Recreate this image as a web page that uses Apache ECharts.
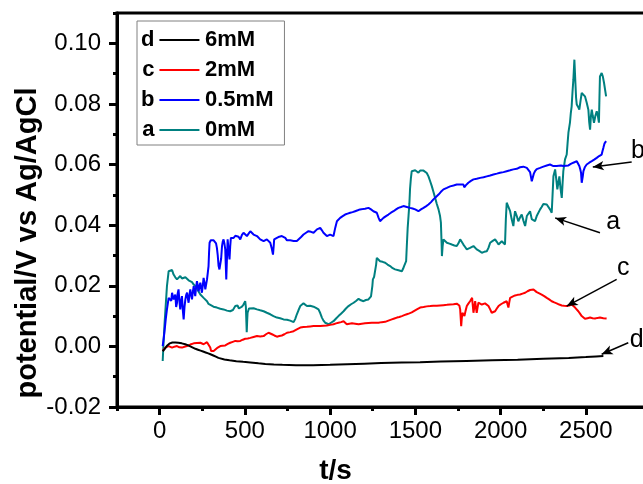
<!DOCTYPE html>
<html>
<head>
<meta charset="utf-8">
<script src="https://cdn.jsdelivr.net/npm/echarts@6/dist/echarts.min.js"></script>
<style>
html,body{margin:0;padding:0;background:#fff;}
#main{width:643px;height:484px;}
</style>
</head>
<body>
<div id="main"></div>
<script>
// t/s , potential/V
var seriesA = [[18,-0.0048],[28,0.0067],[43,0.0199],[53,0.0248],[63,0.0245],[73,0.0252],[82,0.0237],[92,0.0228],[102,0.0221],[111,0.0226],[121,0.0232],[131,0.0224],[141,0.0221],[151,0.0228],[161,0.0226],[170,0.0218],[180,0.0221],[190,0.0212],[200,0.0204],[209,0.0199],[219,0.0193],[229,0.0180],[239,0.0171],[248,0.0166],[258,0.0160],[268,0.0155],[278,0.0149],[287,0.0140],[297,0.0135],[316,0.0131],[336,0.0128],[356,0.0124],[375,0.0122],[395,0.0118],[414,0.0116],[430,0.0120],[444,0.0133],[457,0.0135],[465,0.0125],[473,0.0128],[483,0.0131],[492,0.0138],[502,0.0149],[506,0.0130],[509,0.0080],[511,0.0047],[514,0.0090],[516,0.0111],[524,0.0125],[532,0.0128],[551,0.0126],[571,0.0122],[590,0.0119],[610,0.0116],[629,0.0111],[649,0.0106],[668,0.0100],[688,0.0095],[707,0.0093],[727,0.0089],[747,0.0088],[766,0.0085],[786,0.0080],[795,0.0090],[805,0.0106],[815,0.0120],[825,0.0133],[834,0.0138],[844,0.0142],[854,0.0138],[864,0.0133],[883,0.0134],[903,0.0131],[917,0.0127],[932,0.0122],[942,0.0110],[952,0.0095],[961,0.0085],[971,0.0078],[981,0.0075],[991,0.0073],[1005,0.0078],[1020,0.0083],[1035,0.0092],[1049,0.0100],[1064,0.0108],[1079,0.0116],[1093,0.0125],[1108,0.0133],[1123,0.0139],[1138,0.0144],[1152,0.0150],[1167,0.0157],[1181,0.0152],[1196,0.0149],[1210,0.0153],[1225,0.0155],[1240,0.0165],[1245,0.0171],[1248,0.0200],[1251,0.0221],[1258,0.0229],[1264,0.0232],[1270,0.0270],[1274,0.0292],[1284,0.0286],[1293,0.0281],[1308,0.0279],[1323,0.0276],[1337,0.0270],[1352,0.0265],[1367,0.0258],[1381,0.0254],[1401,0.0251],[1421,0.0248],[1428,0.0256],[1434,0.0265],[1446,0.0281],[1450,0.0331],[1455,0.0390],[1460,0.0430],[1465,0.0470],[1469,0.0520],[1474,0.0555],[1479,0.0578],[1489,0.0575],[1499,0.0581],[1509,0.0577],[1518,0.0573],[1528,0.0580],[1538,0.0584],[1548,0.0580],[1557,0.0578],[1567,0.0572],[1577,0.0561],[1587,0.0545],[1597,0.0528],[1606,0.0510],[1616,0.0490],[1626,0.0470],[1636,0.0452],[1645,0.0430],[1650,0.0408],[1654,0.0340],[1656,0.0298],[1660,0.0330],[1665,0.0353],[1675,0.0347],[1685,0.0342],[1700,0.0339],[1714,0.0336],[1729,0.0333],[1743,0.0331],[1753,0.0340],[1763,0.0353],[1772,0.0345],[1782,0.0336],[1792,0.0328],[1802,0.0320],[1811,0.0323],[1821,0.0325],[1831,0.0328],[1841,0.0331],[1851,0.0325],[1860,0.0320],[1875,0.0315],[1890,0.0309],[1904,0.0312],[1919,0.0314],[1929,0.0325],[1939,0.0342],[1954,0.0348],[1968,0.0353],[1978,0.0345],[1988,0.0336],[1997,0.0342],[2007,0.0347],[2017,0.0342],[2026,0.0336],[2031,0.0420],[2036,0.0474],[2046,0.0460],[2056,0.0446],[2065,0.0420],[2075,0.0397],[2080,0.0425],[2085,0.0446],[2095,0.0430],[2104,0.0413],[2114,0.0425],[2124,0.0435],[2134,0.0415],[2144,0.0397],[2154,0.0430],[2163,0.0424],[2173,0.0446],[2183,0.0420],[2193,0.0425],[2202,0.0413],[2212,0.0430],[2222,0.0435],[2232,0.0452],[2241,0.0460],[2251,0.0470],[2261,0.0474],[2271,0.0468],[2281,0.0463],[2290,0.0452],[2300,0.0441],[2305,0.0500],[2310,0.0561],[2320,0.0584],[2327,0.0550],[2333,0.0518],[2339,0.0540],[2345,0.0561],[2352,0.0520],[2359,0.0490],[2364,0.0540],[2368,0.0578],[2378,0.0617],[2388,0.0633],[2393,0.0670],[2398,0.0705],[2407,0.0738],[2412,0.0770],[2417,0.0792],[2422,0.0840],[2427,0.0880],[2433,0.0946],[2439,0.0869],[2443,0.0820],[2447,0.0798],[2455,0.0790],[2462,0.0781],[2469,0.0810],[2476,0.0836],[2486,0.0830],[2495,0.0825],[2505,0.0805],[2515,0.0781],[2520,0.0740],[2525,0.0715],[2530,0.0760],[2535,0.0781],[2541,0.0760],[2548,0.0738],[2556,0.0760],[2564,0.0776],[2571,0.0760],[2577,0.0738],[2580,0.0820],[2583,0.0891],[2593,0.0902],[2600,0.0890],[2607,0.0869],[2612,0.0870],[2619,0.0825]];
var seriesB = [[18,0.0001],[28,0.0045],[36,0.0090],[43,0.0122],[53,0.0160],[63,0.0166],[68,0.0150],[73,0.0177],[82,0.0155],[92,0.0171],[97,0.0130],[102,0.0144],[106,0.0175],[111,0.0188],[116,0.0150],[121,0.0122],[126,0.0150],[131,0.0166],[136,0.0120],[141,0.0089],[146,0.0130],[151,0.0155],[156,0.0170],[161,0.0177],[165,0.0160],[170,0.0144],[175,0.0170],[180,0.0188],[185,0.0170],[190,0.0155],[195,0.0180],[200,0.0199],[205,0.0180],[209,0.0166],[214,0.0195],[219,0.0215],[224,0.0200],[229,0.0182],[234,0.0200],[239,0.0210],[243,0.0195],[248,0.0177],[253,0.0200],[258,0.0226],[263,0.0210],[268,0.0188],[273,0.0205],[278,0.0221],[283,0.0245],[287,0.0265],[290,0.0310],[293,0.0342],[300,0.0350],[307,0.0353],[317,0.0350],[327,0.0347],[331,0.0340],[336,0.0325],[341,0.0300],[346,0.0265],[351,0.0254],[356,0.0254],[361,0.0290],[366,0.0331],[370,0.0345],[375,0.0353],[380,0.0340],[385,0.0320],[388,0.0270],[391,0.0221],[395,0.0290],[399,0.0353],[404,0.0320],[410,0.0287],[414,0.0330],[418,0.0358],[426,0.0360],[434,0.0358],[444,0.0365],[454,0.0369],[463,0.0362],[473,0.0353],[483,0.0368],[492,0.0375],[502,0.0370],[512,0.0364],[522,0.0372],[532,0.0380],[541,0.0375],[551,0.0369],[561,0.0366],[571,0.0364],[580,0.0358],[590,0.0353],[600,0.0350],[610,0.0347],[620,0.0350],[629,0.0353],[639,0.0348],[649,0.0342],[657,0.0325],[665,0.0303],[669,0.0330],[672,0.0353],[680,0.0356],[688,0.0358],[702,0.0362],[717,0.0364],[727,0.0360],[737,0.0358],[747,0.0350],[756,0.0347],[766,0.0350],[776,0.0353],[786,0.0348],[795,0.0342],[805,0.0348],[815,0.0353],[830,0.0361],[844,0.0369],[859,0.0375],[873,0.0380],[888,0.0378],[903,0.0375],[913,0.0381],[923,0.0386],[932,0.0389],[942,0.0391],[952,0.0383],[961,0.0375],[971,0.0370],[981,0.0364],[991,0.0367],[1000,0.0369],[1010,0.0366],[1020,0.0364],[1030,0.0391],[1040,0.0413],[1049,0.0419],[1059,0.0424],[1074,0.0430],[1088,0.0435],[1103,0.0438],[1118,0.0441],[1132,0.0443],[1147,0.0446],[1162,0.0449],[1176,0.0452],[1191,0.0453],[1205,0.0454],[1215,0.0455],[1225,0.0457],[1240,0.0452],[1254,0.0446],[1264,0.0444],[1274,0.0441],[1284,0.0425],[1293,0.0413],[1303,0.0418],[1313,0.0424],[1328,0.0430],[1342,0.0435],[1357,0.0441],[1372,0.0446],[1387,0.0452],[1401,0.0457],[1416,0.0460],[1430,0.0463],[1450,0.0460],[1469,0.0457],[1484,0.0455],[1499,0.0452],[1509,0.0449],[1518,0.0446],[1533,0.0452],[1548,0.0457],[1562,0.0462],[1577,0.0468],[1592,0.0476],[1606,0.0485],[1621,0.0493],[1636,0.0501],[1650,0.0510],[1665,0.0518],[1685,0.0523],[1704,0.0528],[1724,0.0531],[1743,0.0534],[1763,0.0534],[1782,0.0534],[1787,0.0525],[1792,0.0523],[1797,0.0532],[1811,0.0540],[1826,0.0546],[1841,0.0551],[1860,0.0553],[1880,0.0556],[1900,0.0558],[1919,0.0561],[1939,0.0564],[1958,0.0567],[1978,0.0570],[1997,0.0573],[2017,0.0575],[2036,0.0578],[2056,0.0581],[2075,0.0584],[2095,0.0586],[2114,0.0591],[2134,0.0593],[2144,0.0595],[2154,0.0589],[2163,0.0584],[2173,0.0575],[2178,0.0560],[2183,0.0545],[2189,0.0551],[2195,0.0570],[2202,0.0578],[2212,0.0585],[2222,0.0585],[2232,0.0589],[2251,0.0593],[2271,0.0597],[2290,0.0600],[2300,0.0600],[2310,0.0595],[2320,0.0589],[2329,0.0595],[2339,0.0600],[2354,0.0597],[2368,0.0595],[2383,0.0596],[2398,0.0597],[2412,0.0602],[2427,0.0606],[2447,0.0611],[2455,0.0605],[2462,0.0595],[2467,0.0585],[2472,0.0573],[2476,0.0540],[2478,0.0534],[2482,0.0560],[2486,0.0578],[2495,0.0592],[2505,0.0600],[2520,0.0606],[2535,0.0611],[2549,0.0616],[2564,0.0622],[2578,0.0628],[2593,0.0633],[2598,0.0645],[2603,0.0655],[2610,0.0670],[2619,0.0677]];
var seriesC = [[18,-0.0015],[33,-0.0004],[53,0.0001],[73,-0.0004],[87,-0.0001],[102,0.0001],[116,-0.0003],[131,-0.0004],[146,-0.0001],[161,0.0001],[180,0.0006],[200,0.0010],[219,0.0011],[239,0.0012],[248,0.0010],[258,0.0007],[268,0.0011],[278,0.0014],[287,0.0008],[297,-0.0004],[302,-0.0015],[307,-0.0021],[317,-0.0015],[327,-0.0010],[341,-0.0004],[356,0.0001],[370,0.0002],[385,0.0003],[400,0.0008],[414,0.0012],[429,0.0015],[444,0.0018],[458,0.0017],[473,0.0018],[488,0.0022],[502,0.0025],[517,0.0026],[532,0.0028],[551,0.0031],[571,0.0034],[590,0.0033],[610,0.0034],[624,0.0040],[639,0.0045],[649,0.0042],[659,0.0040],[673,0.0036],[688,0.0032],[702,0.0034],[717,0.0036],[732,0.0040],[747,0.0045],[766,0.0047],[786,0.0050],[805,0.0056],[825,0.0062],[844,0.0064],[864,0.0065],[883,0.0066],[903,0.0067],[922,0.0067],[942,0.0067],[961,0.0068],[981,0.0069],[1000,0.0071],[1020,0.0073],[1035,0.0076],[1049,0.0078],[1064,0.0080],[1079,0.0083],[1088,0.0078],[1098,0.0073],[1113,0.0075],[1128,0.0076],[1147,0.0075],[1167,0.0073],[1186,0.0075],[1205,0.0076],[1225,0.0077],[1245,0.0078],[1264,0.0078],[1284,0.0078],[1303,0.0080],[1323,0.0081],[1342,0.0085],[1362,0.0089],[1377,0.0092],[1392,0.0095],[1406,0.0097],[1421,0.0100],[1435,0.0103],[1450,0.0106],[1465,0.0109],[1479,0.0112],[1494,0.0117],[1509,0.0122],[1528,0.0128],[1548,0.0130],[1567,0.0132],[1587,0.0133],[1606,0.0134],[1626,0.0134],[1645,0.0135],[1665,0.0136],[1685,0.0137],[1704,0.0138],[1724,0.0139],[1743,0.0141],[1753,0.0142],[1758,0.0135],[1763,0.0122],[1766,0.0095],[1769,0.0067],[1772,0.0090],[1776,0.0111],[1782,0.0105],[1788,0.0100],[1795,0.0118],[1802,0.0133],[1811,0.0141],[1821,0.0149],[1827,0.0155],[1833,0.0160],[1837,0.0135],[1841,0.0111],[1846,0.0130],[1851,0.0149],[1855,0.0130],[1860,0.0111],[1865,0.0128],[1870,0.0144],[1880,0.0141],[1890,0.0138],[1900,0.0140],[1909,0.0142],[1919,0.0138],[1929,0.0133],[1939,0.0122],[1948,0.0111],[1958,0.0114],[1968,0.0116],[1978,0.0125],[1988,0.0133],[2002,0.0139],[2017,0.0144],[2026,0.0147],[2036,0.0149],[2041,0.0138],[2046,0.0128],[2051,0.0145],[2056,0.0160],[2070,0.0164],[2085,0.0168],[2100,0.0170],[2114,0.0171],[2129,0.0174],[2144,0.0177],[2158,0.0182],[2173,0.0186],[2193,0.0188],[2212,0.0179],[2227,0.0175],[2241,0.0171],[2256,0.0166],[2271,0.0160],[2285,0.0155],[2300,0.0149],[2315,0.0145],[2329,0.0142],[2344,0.0138],[2359,0.0135],[2373,0.0134],[2388,0.0133],[2403,0.0135],[2417,0.0138],[2427,0.0133],[2437,0.0128],[2446,0.0122],[2456,0.0116],[2466,0.0108],[2476,0.0100],[2486,0.0095],[2495,0.0091],[2510,0.0093],[2525,0.0095],[2540,0.0093],[2554,0.0092],[2569,0.0094],[2583,0.0095],[2603,0.0093],[2622,0.0092]];
var seriesD = [[18,-0.0016],[30,-0.0008],[45,0.0003],[60,0.0010],[75,0.0013],[92,0.0013],[110,0.0012],[130,0.0010],[150,0.0007],[165,0.0004],[180,0.0000],[195,-0.0004],[210,-0.0008],[225,-0.0011],[240,-0.0014],[255,-0.0017],[270,-0.0020],[285,-0.0023],[298,-0.0026],[315,-0.0030],[330,-0.0034],[345,-0.0038],[356,-0.0040],[380,-0.0043],[410,-0.0046],[450,-0.0049],[490,-0.0051],[532,-0.0053],[580,-0.0056],[620,-0.0058],[670,-0.0060],[720,-0.0061],[800,-0.0062],[900,-0.0062],[1000,-0.0061],[1100,-0.0059],[1200,-0.0057],[1300,-0.0055],[1420,-0.0053],[1528,-0.0052],[1650,-0.0050],[1800,-0.0048],[1950,-0.0046],[2100,-0.0044],[2250,-0.0041],[2400,-0.0038],[2500,-0.0035],[2560,-0.0033],[2603,-0.0032]];

var seriesNames = ['0mM', '0.5mM', '2mM', '6mM'];
var seriesLetters = ['a', 'b', 'c', 'd'];
var seriesColors = ['#008080', '#0000ff', '#ff0000', '#000000'];
var legendOrder = ['6mM', '2mM', '0.5mM', '0mM'];

var xMajor = [0, 500, 1000, 1500, 2000, 2500];
var xMinor = [-250, 250, 750, 1250, 1750, 2250];
var yMajor = [-0.02, 0, 0.02, 0.04, 0.06, 0.08, 0.10];
var yMinor = [-0.01, 0.01, 0.03, 0.05, 0.07, 0.09, 0.11];

// arrows: [letter, label point, arrow start, arrow tip]
var notes = [
    ['b', [2806, 0.0643], [2769, 0.0608], [2541, 0.0592]],
    ['a', [2661, 0.0409], [2583, 0.0375], [2320, 0.0424]],
    ['c', [2720, 0.0257], [2681, 0.0221], [2388, 0.0133]],
    ['d', [2798, 0.0020], [2749, 0.0012], [2593, -0.0026]]
];

var FONT = 'Liberation Sans, Arial, sans-serif';
var myChart = echarts.init(document.getElementById('main'));

var seriesData = [seriesA, seriesB, seriesC, seriesD];
var series = seriesData.map(function(d, i){
    return {
        name: seriesNames[i],
        type: 'line',
        data: d,
        showSymbol: false,
        symbol: 'none',
        color: seriesColors[i],
        lineStyle: {color: seriesColors[i], width: 2},
        xAxisIndex: 0,
        yAxisIndex: 0,
        z: 2 + i
    };
});
series[3].markLine = {
    silent: true,
    symbol: ['none', 'arrow'],
    symbolSize: [7, 11],
    lineStyle: {color: '#000', width: 1.5, type: 'solid'},
    label: {show: false},
    data: notes.map(function(n){
        return [{coord: n[2]}, {coord: n[3]}];
    })
};
series[3].markPoint = {
    silent: true,
    symbol: 'circle',
    symbolSize: 1,
    itemStyle: {color: 'rgba(0,0,0,0)'},
    label: {
        show: true, position: 'inside', color: '#000',
        fontSize: 25, fontFamily: FONT,
        formatter: function(p){ return p.name; }
    },
    data: notes.map(function(n){
        return {name: n[0], coord: n[1]};
    })
};

var legendText = {fontSize: 22, fontWeight: 'bold', color: '#000', lineHeight: 22, fontFamily: FONT};

option = {
    animation: false,
    backgroundColor: '#fff',
    grid: {
        left: 117, top: 13, right: -11, bottom: 77,
        show: true, borderColor: '#000', borderWidth: 3,
        containLabel: false, outerBoundsMode: 'none'
    },
    legend: [{
        orient: 'vertical', left: 137, top: 21, align: 'right',
        padding: [8, 85, 4, 4],
        borderColor: '#808080', borderWidth: 1,
        icon: 'rect', itemWidth: 40, itemHeight: 2, itemGap: 8,
        data: legendOrder,
        formatter: function(name){ return seriesLetters[seriesNames.indexOf(name)]; },
        textStyle: legendText
    }, {
        orient: 'vertical', left: 200, top: 29, padding: 0,
        icon: 'rect', itemWidth: 0, itemHeight: 2, itemGap: 8,
        itemStyle: {opacity: 0},
        data: legendOrder,
        textStyle: legendText
    }],
    xAxis: [{
        type: 'value', min: -250, max: 2900, position: 'bottom',
        name: 't/s', nameLocation: 'middle', nameGap: 50, nameMoveOverlap: false,
        nameTextStyle: {fontSize: 28, fontWeight: 'bold', color: '#000', fontFamily: FONT, padding: [0, 100, 0, 0]},
        axisLine: {show: true, onZero: false, lineStyle: {color: '#000', width: 3}},
        axisTick: {show: true, length: 8, customValues: xMajor, lineStyle: {color: '#000', width: 3}},
        axisLabel: {
            customValues: xMajor, margin: 12, fontSize: 24, color: '#000', fontFamily: FONT,
            formatter: function(v){ return String(v); }
        },
        splitLine: {show: false}
    }, {
        type: 'value', min: -250, max: 2900, position: 'bottom',
        axisLine: {show: false, onZero: false},
        axisTick: {show: true, length: 4, customValues: xMinor, lineStyle: {color: '#000', width: 3}},
        axisLabel: {show: false},
        splitLine: {show: false}
    }],
    yAxis: [{
        type: 'value', min: -0.02, max: 0.11, position: 'left',
        name: 'potential/V vs Ag/AgCl', nameLocation: 'middle', nameGap: 75, nameMoveOverlap: false,
        nameTextStyle: {fontSize: 29, fontWeight: 'bold', color: '#000', fontFamily: FONT, padding: [0, 66, 0, 0]},
        axisLine: {show: true, onZero: false, lineStyle: {color: '#000', width: 3}},
        axisTick: {show: true, length: 8, customValues: yMajor, lineStyle: {color: '#000', width: 3}},
        axisLabel: {
            customValues: yMajor, margin: 16, fontSize: 24, color: '#000', fontFamily: FONT,
            formatter: function(v){ return v.toFixed(2); }
        },
        splitLine: {show: false}
    }, {
        type: 'value', min: -0.02, max: 0.11, position: 'left',
        axisLine: {show: false, onZero: false},
        axisTick: {show: true, length: 4, customValues: yMinor, lineStyle: {color: '#000', width: 3}},
        axisLabel: {show: false},
        splitLine: {show: false}
    }],
    series: series
};
myChart.setOption(option);
window.onresize = function(){
    myChart.resize();
};
</script>
</body>
</html>
